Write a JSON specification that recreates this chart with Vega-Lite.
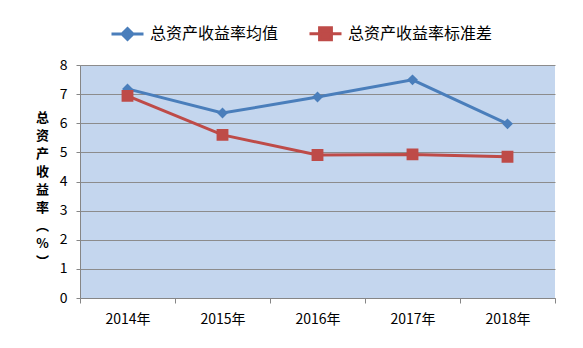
{
  "$schema": "https://vega.github.io/schema/vega-lite/v6.json",
  "autosize": {"type": "none"},
  "width": 475,
  "height": 233,
  "padding": {"left": 80, "top": 65, "right": 28, "bottom": 50},
  "background": "white",
  "config": {
    "font": "Noto Sans CJK SC",
    "view": {"fill": "#c4d6ee", "stroke": null}
  },
  "data": {
    "values": [
      {"year": "2014年", "series": "总资产收益率均值", "value": 7.18},
      {"year": "2015年", "series": "总资产收益率均值", "value": 6.35},
      {"year": "2016年", "series": "总资产收益率均值", "value": 6.9},
      {"year": "2017年", "series": "总资产收益率均值", "value": 7.49},
      {"year": "2018年", "series": "总资产收益率均值", "value": 5.98},
      {"year": "2014年", "series": "总资产收益率标准差", "value": 6.94},
      {"year": "2015年", "series": "总资产收益率标准差", "value": 5.6},
      {"year": "2016年", "series": "总资产收益率标准差", "value": 4.91},
      {"year": "2017年", "series": "总资产收益率标准差", "value": 4.93},
      {"year": "2018年", "series": "总资产收益率标准差", "value": 4.85}
    ]
  },
  "encoding": {
    "x": {
      "field": "year", "type": "ordinal",
      "scale": {"type": "band", "paddingInner": 0, "paddingOuter": 0},
      "axis": {
        "title": null, "labelAngle": 0, "tickBand": "extent", "grid": false,
        "domainColor": "#868686", "tickColor": "#868686", "tickSize": 5,
        "labelFontSize": 14, "labelColor": "black", "labelPadding": 9,
        "labelFont": "Noto Sans CJK SC"
      }
    },
    "y": {
      "field": "value", "type": "quantitative",
      "scale": {"domain": [0, 8], "nice": false},
      "axis": {
        "values": [0, 1, 2, 3, 4, 5, 6, 7, 8],
        "gridColor": "#8c8c8c", "gridWidth": 1, "gridOpacity": 1,
        "domainColor": "#868686", "tickColor": "#868686", "tickSize": 4,
        "labelFontSize": 14, "labelColor": "black", "labelPadding": 9,
        "title": ["总", "资", "产", "收", "益", "率", "︵", "%", "︶"],
        "titleAngle": 0, "titleAlign": "center", "titleBaseline": "top",
        "titleX": -38, "titleY": 46, "titleFontSize": 13, "titleFontWeight": "bold",
        "titleLineHeight": 18, "titleColor": "black"
      }
    },
    "color": {
      "field": "series", "type": "nominal",
      "scale": {"domain": ["总资产收益率均值", "总资产收益率标准差"], "range": ["#4A7EBB", "#BE4B48"]},
      "legend": {
        "title": null, "orient": "none", "direction": "horizontal",
        "legendX": 30, "legendY": -49,
        "labelFontSize": 16, "labelColor": "black", "labelOffset": 5,
        "columnPadding": 24, "symbolSize": 1024, "symbolStrokeWidth": 3,
        "labelLimit": 300,
        "encode": {"symbols": {"update": {"stroke": {"scale": "color", "field": "value"}, "strokeWidth": {"value": 3}}}}
      }
    }
  },
  "layer": [
    {"mark": {"type": "line", "strokeWidth": 3}},
    {
      "mark": {"type": "point", "filled": true, "size": 1024, "strokeWidth": 0, "opacity": 1},
      "encoding": {
        "shape": {
          "field": "series", "type": "nominal",
          "scale": {
            "domain": ["总资产收益率均值", "总资产收益率标准差"],
            "range": ["M-1,0H1M0,-0.34L0.34,0L0,0.34L-0.34,0Z", "M-1,0H1M-0.37,-0.37H0.37V0.37H-0.37Z"]
          },
          "legend": {
            "title": null, "orient": "none", "direction": "horizontal",
            "legendX": 30, "legendY": -49,
            "labelFontSize": 16, "labelColor": "black", "labelOffset": 5,
            "columnPadding": 24, "symbolSize": 1024, "symbolStrokeWidth": 3,
            "labelLimit": 300,
            "encode": {"symbols": {"update": {"stroke": {"scale": "color", "field": "value"}, "strokeWidth": {"value": 3}}}}
          }
        }
      }
    }
  ]
}
